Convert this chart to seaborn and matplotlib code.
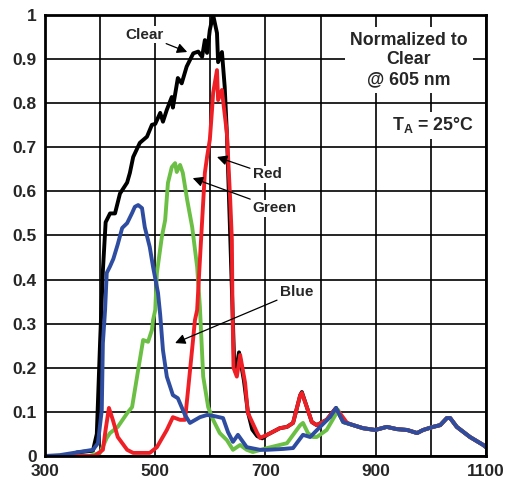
import numpy as np
import pandas as pd
import seaborn as sns
import matplotlib.pyplot as plt

# spectral responsivity, normalized to clear @ 605 nm
tail_nm = [841, 859, 877, 899, 920, 938, 957, 975, 986, 1004, 1017, 1029, 1035, 1047, 1071, 1095, 1100]
tail_val = [0.077, 0.070, 0.063, 0.059, 0.066, 0.061, 0.059, 0.052, 0.059, 0.066, 0.070, 0.086, 0.086, 0.066, 0.043, 0.025, 0.020]

clear_nm = [300, 340, 358, 387, 394, 400, 405, 410, 418, 427, 436, 449, 454, 460, 472, 485, 494, 500,
            509, 514, 521, 530, 532, 541, 548, 557, 569, 578, 585, 590, 594, 599, 605, 612, 614, 621,
            626, 630, 636, 641, 643, 646, 652, 661, 668, 676, 685, 694, 703, 726, 739, 750, 763, 766,
            775, 784, 793, 811, 828] + tail_nm
clear_val = [0.0, 0.0, 0.008, 0.012, 0.05, 0.26, 0.42, 0.53, 0.55, 0.55, 0.595, 0.62, 0.642, 0.678, 0.71,
             0.724, 0.751, 0.753, 0.778, 0.758, 0.785, 0.814, 0.79, 0.857, 0.845, 0.883, 0.913, 0.917,
             0.905, 0.943, 0.914, 0.966, 1.0, 0.959, 0.893, 0.916, 0.837, 0.73, 0.5, 0.3, 0.22, 0.19,
             0.235, 0.17, 0.10, 0.06, 0.045, 0.04, 0.048, 0.063, 0.066, 0.075, 0.138, 0.145, 0.111,
             0.077, 0.070, 0.082, 0.109] + tail_val

red_nm = [300, 390, 405, 410, 416, 423, 432, 449, 460, 490, 503, 521, 532, 545, 554, 559, 568, 572, 576,
          581, 590, 594, 599, 603, 605, 612, 614, 621, 623, 630, 636, 639, 640, 642, 648, 654, 663, 668,
          685, 690, 703, 726, 739, 750, 763, 766, 775, 784, 793, 811, 826, 835, 848, 859] + tail_nm[2:]
red_val = [0.0, 0.0, 0.014, 0.06, 0.109, 0.082, 0.043, 0.014, 0.007, 0.007, 0.02, 0.059, 0.088, 0.082,
           0.082, 0.143, 0.256, 0.308, 0.331, 0.444, 0.642, 0.678, 0.717, 0.785, 0.823, 0.875, 0.807,
           0.83, 0.807, 0.732, 0.58, 0.49, 0.35, 0.2, 0.18, 0.229, 0.166, 0.098, 0.052, 0.041, 0.048,
           0.063, 0.066, 0.075, 0.138, 0.143, 0.111, 0.077, 0.070, 0.082, 0.106, 0.097, 0.075, 0.070] + tail_val[2:]

green_nm = [300, 380, 400, 412, 418, 432, 449, 458, 469, 478, 487, 494, 496, 500, 503, 512, 518, 523, 530,
            536, 539, 545, 550, 558, 567, 576, 581, 587, 596, 605, 617, 630, 641, 654, 666, 677, 703,
            739, 763, 768, 777, 786, 793, 811, 832] + tail_nm
green_val = [0.0, 0.0, 0.007, 0.041, 0.052, 0.066, 0.097, 0.111, 0.195, 0.263, 0.259, 0.286, 0.308, 0.331,
             0.415, 0.497, 0.535, 0.619, 0.655, 0.664, 0.644, 0.66, 0.642, 0.58, 0.519, 0.429, 0.338,
             0.18, 0.111, 0.082, 0.052, 0.036, 0.014, 0.025, 0.014, 0.009, 0.018, 0.029, 0.07, 0.075,
             0.052, 0.043, 0.043, 0.059, 0.104] + tail_val

blue_nm = [300, 327, 387, 396, 403, 405, 409, 412, 418, 424, 432, 440, 449, 458, 463, 469, 476, 481, 490,
           496, 505, 509, 514, 521, 532, 541, 554, 563, 581, 594, 605, 623, 632, 641, 650, 666, 690,
           703, 732, 750, 768, 781, 799, 817, 828] + tail_nm
blue_val = [0.0, 0.002, 0.014, 0.029, 0.104, 0.256, 0.331, 0.415, 0.43, 0.447, 0.48, 0.517, 0.528, 0.551,
            0.565, 0.569, 0.562, 0.519, 0.474, 0.429, 0.37, 0.32, 0.24, 0.18, 0.138, 0.131, 0.093,
            0.075, 0.088, 0.093, 0.091, 0.086, 0.054, 0.032, 0.048, 0.02, 0.014, 0.014, 0.016, 0.018,
            0.048, 0.043, 0.066, 0.088, 0.109] + tail_val

x_ticks = [300, 400, 500, 600, 700, 800, 900, 1000, 1100]
x_labels = ["300", "", "500", "", "700", "", "900", "", "1100"]
y_ticks = [0, 0.1, 0.2, 0.3, 0.4, 0.5, 0.6, 0.7, 0.8, 0.9, 1]
y_labels = ["0", "0.1", "0.2", "0.3", "0.4", "0.5", "0.6", "0.7", "0.8", "0.9", "1"]

sns.set_theme(style="white")
plt.rcParams["font.family"] = ["Liberation Sans", "DejaVu Sans"]
plt.rcParams["mathtext.fontset"] = "custom"
plt.rcParams["mathtext.rm"] = "Liberation Sans:bold"
plt.rcParams["mathtext.bf"] = "Liberation Sans:bold"

fig = plt.figure(figsize=(5.09, 4.91), dpi=100)
ax = fig.add_axes([0.0884, 0.0713, 0.8664, 0.8982])

series = [
    ("Clear", clear_nm, clear_val, "#000000"),
    ("Green", green_nm, green_val, "#6cbf45"),
    ("Red", red_nm, red_val, "#ee2026"),
    ("Blue", blue_nm, blue_val, "#2e4da1"),
]
for name, nm, val, color in series:
    df = pd.DataFrame({"nm": nm, "val": val})
    sns.lineplot(data=df, x="nm", y="val", ax=ax, color=color, lw=2.8, sort=False)

ax.set_xlim(300, 1100)
ax.set_ylim(0, 1)
ax.set_xticks(x_ticks)
ax.set_xticklabels(x_labels)
ax.set_yticks(y_ticks)
ax.set_yticklabels(y_labels)
ax.set_xlabel("")
ax.set_ylabel("")
ax.tick_params(length=0, labelsize=12.5, pad=6)
for lab in ax.get_xticklabels() + ax.get_yticklabels():
    lab.set_fontweight("bold")
ax.grid(True, color="black", lw=1.2)
ax.set_axisbelow(True)
for sp in ax.spines.values():
    sp.set_color("black")
    sp.set_linewidth(2)

box = dict(boxstyle="square,pad=0.1", fc="white", ec="none")
arrow = dict(arrowstyle="-|>", color="black", lw=0.9, mutation_scale=15, shrinkA=1, shrinkB=0)
ann_kw = dict(fontsize=11, fontweight="bold", va="center", bbox=box, arrowprops=arrow)
ax.annotate("Clear", xy=(558, 0.916), xytext=(480, 0.955), ha="center", **ann_kw)
ax.annotate("Red", xy=(612, 0.678), xytext=(677, 0.639), ha="left", **ann_kw)
ax.annotate("Green", xy=(568, 0.63), xytext=(677, 0.562), ha="left", **ann_kw)
ax.annotate("Blue", xy=(536, 0.256), xytext=(726, 0.372), ha="left", **ann_kw)

ax.text(960, 0.898, "Normalized to\nClear\n@ 605 nm", ha="center", va="center", fontsize=12.8,
        fontweight="bold", linespacing=1.2,
        bbox=dict(boxstyle="square,pad=0.3", fc="white", ec="none"))
ax.text(1003, 0.75, r"T$_\mathregular{A}$ = 25°C", ha="center", va="center", fontsize=12.8,
        fontweight="bold", bbox=dict(boxstyle="square,pad=0.2", fc="white", ec="none"))

fig.savefig("out.png", dpi=100)
